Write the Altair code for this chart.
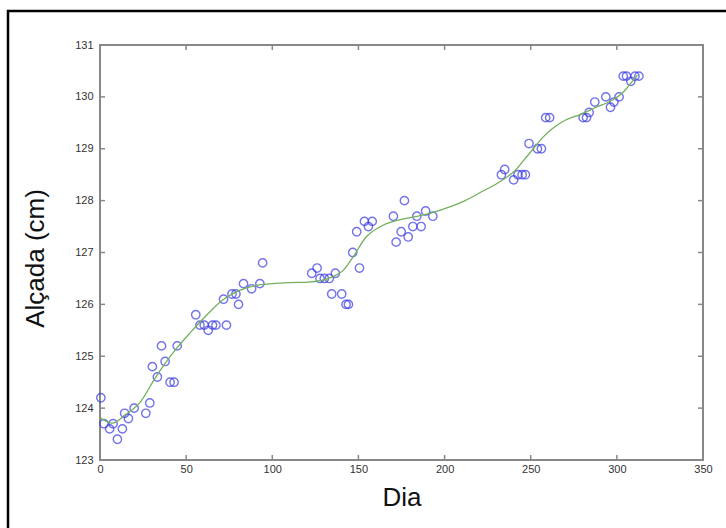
import altair as alt
import pandas as pd

# Observed points (Dia, Alçada)
days = [0.5, 2.3, 5.6, 7.6, 10.1, 13.0, 14.3, 16.5, 19.8, 26.6, 28.9, 30.4, 33.3, 35.7,
        37.8, 40.7, 43.0, 44.8, 55.6, 58.0, 60.5, 62.8, 65.3, 67.3, 71.7, 73.4, 76.6,
        78.9, 80.4, 83.3, 88.0, 92.8, 94.4, 122.9, 126.0, 127.7, 130.2, 133.1, 136.6,
        134.5, 140.3, 142.8, 144.2, 146.7, 150.6, 149.0, 153.5, 155.8, 158.0, 170.3,
        171.9, 174.8, 176.7, 178.9, 181.6, 183.9, 186.4, 189.0, 193.2, 233.0, 234.9,
        240.1, 242.6, 245.0, 246.9, 249.0, 253.9, 256.2, 258.7, 261.0, 280.4, 282.4,
        283.9, 287.2, 293.6, 296.3, 298.3, 301.3, 303.7, 305.6, 308.1, 310.5, 312.8]
heights = [124.2, 123.7, 123.6, 123.7, 123.4, 123.6, 123.9, 123.8, 124.0, 123.9, 124.1,
           124.8, 124.6, 125.2, 124.9, 124.5, 124.5, 125.2, 125.8, 125.6, 125.6, 125.5,
           125.6, 125.6, 126.1, 125.6, 126.2, 126.2, 126.0, 126.4, 126.3, 126.4, 126.8,
           126.6, 126.7, 126.5, 126.5, 126.5, 126.6, 126.2, 126.2, 126.0, 126.0, 127.0,
           126.7, 127.4, 127.6, 127.5, 127.6, 127.7, 127.2, 127.4, 128.0, 127.3, 127.5,
           127.7, 127.5, 127.8, 127.7, 128.5, 128.6, 128.4, 128.5, 128.5, 128.5, 129.1,
           129.0, 129.0, 129.6, 129.6, 129.6, 129.6, 129.7, 129.9, 130.0, 129.8, 129.9,
           130.0, 130.4, 130.4, 130.3, 130.4, 130.4]

# Fitted curve
curve_x = [0, 7, 15, 23, 32, 42, 52, 61, 71, 81, 90, 100, 110, 121, 135, 141, 147, 154,
           164, 174, 183, 193, 203, 212, 222, 230, 236, 240, 246, 251, 257, 263, 270, 278,
           288, 298, 304, 309, 312]
curve_y = [123.82, 123.71, 123.88, 124.1, 124.58, 125.05, 125.44, 125.76, 126.08, 126.27,
           126.36, 126.4, 126.42, 126.43, 126.53, 126.65, 126.92, 127.28, 127.52, 127.63,
           127.69, 127.77, 127.88, 128.0, 128.18, 128.32, 128.45, 128.55, 128.78, 128.98,
           129.22, 129.4, 129.55, 129.65, 129.8, 129.95, 130.1, 130.3, 130.42]

x_ticks = [0, 50, 100, 150, 200, 250, 300, 350]
y_ticks = [123, 124, 125, 126, 127, 128, 129, 130, 131]

W, H = 603, 415
FONT = "Liberation Sans"

pts = pd.DataFrame({"Dia": days, "Alcada": heights})
crv = pd.DataFrame({"Dia": curve_x, "Alcada": curve_y})
xt = pd.DataFrame({"Dia": x_ticks})
yt = pd.DataFrame({"Alcada": y_ticks})

xscale = alt.Scale(domain=[0, 350], nice=False, zero=False)
yscale = alt.Scale(domain=[123, 131], nice=False, zero=False)

xaxis = alt.Axis(values=x_ticks, tickSize=0, domain=False, grid=False, labelFontSize=11,
                 labelColor="#333", labelPadding=3, labelFont=FONT, labelFlush=False,
                 title="Dia", titleFont=FONT, titleFontSize=26, titleFontWeight="normal",
                 titleColor="#111", titleBaseline="middle", titleY=37)
yaxis = alt.Axis(values=y_ticks, tickSize=0, domain=False, grid=False, labelFontSize=11,
                 labelColor="#333", labelPadding=7, labelFont=FONT, labelFlush=False,
                 title="Alçada (cm)", titleFont=FONT, titleFontSize=26, titleFontWeight="normal",
                 titleColor="#111", titleBaseline="middle", titleX=-65, titleY=213)

X = alt.X("Dia:Q", scale=xscale, axis=xaxis)
Y = alt.Y("Alcada:Q", scale=yscale, axis=yaxis)

points = alt.Chart(pts).mark_point(shape="circle", filled=False, color="#3a3ae0",
                                   size=70, strokeWidth=1.4).encode(x=X, y=Y)

line = alt.Chart(crv).mark_line(color="#72b05c", strokeWidth=1.3,
                                interpolate="monotone").encode(x=X, y=Y)

tick_style = dict(color="#888", strokeWidth=1.5)
xb = alt.Chart(xt).mark_rule(**tick_style).encode(x=X, y=alt.value(H), y2=alt.value(H - 5))
xtop = alt.Chart(xt).mark_rule(**tick_style).encode(x=X, y=alt.value(0), y2=alt.value(5))
yl = alt.Chart(yt).mark_rule(**tick_style).encode(y=Y, x=alt.value(0), x2=alt.value(5))
yr = alt.Chart(yt).mark_rule(**tick_style).encode(y=Y, x=alt.value(W), x2=alt.value(W - 5))

frame = alt.Chart(pd.DataFrame({"a": [1]})).mark_rect(
    filled=False, stroke="black", strokeWidth=2.5).encode(
    x=alt.value(-92), x2=alt.value(W + 60), y=alt.value(-34), y2=alt.value(H + 120))

chart = alt.layer(points, line, xb, xtop, yl, yr, frame).properties(
    width=W, height=H,
    autosize=alt.AutoSizeParams(type="none"),
    padding={"left": 100, "top": 45, "right": 23, "bottom": 68},
    background="white",
).configure_view(stroke="#888", strokeWidth=2)

chart.save("out.html", embed_options={"renderer": "svg", "actions": False})
